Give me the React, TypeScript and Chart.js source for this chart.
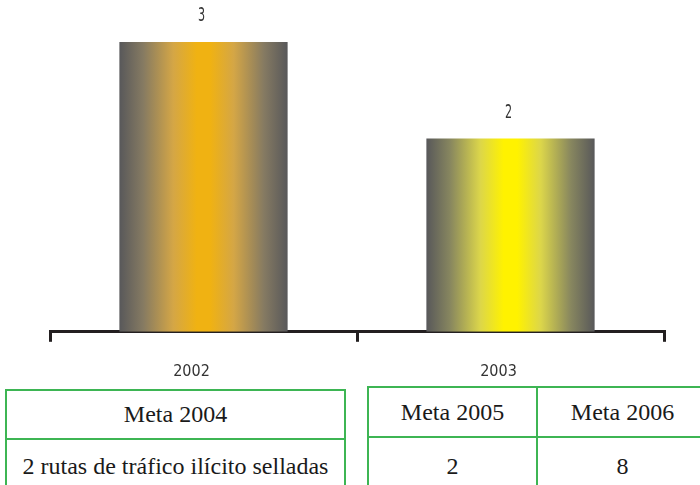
import React, { useEffect, useRef } from "react";
import { Chart, registerables } from "chart.js";

Chart.register(...registerables);

const categories = ["2002", "2003"];
const values = [3, 2];
const barCenterColors = ["#f0b212", "#fff200"];
const barMidColors = ["#d4a646", "#dcd64a"];
const barSideColors = ["#857a62", "#87865f"];

const goalHeaders = ["Meta 2004", "Meta 2005", "Meta 2006"];
const goalValues = ["2 rutas de tráfico ilícito selladas", "2", "8"];

const GREEN = "#3db553";
const LABEL_FONT = "'DejaVu Sans Condensed', 'DejaVu Sans', sans-serif";

const gradientPlugin = {
  id: "barGradient",
  beforeDatasetsDraw(chart: any) {
    const ctx = chart.ctx;
    const meta = chart.getDatasetMeta(0);
    meta.data.forEach((el: any, i: number) => {
      const x0 = el.x - el.width / 2;
      const x1 = el.x + el.width / 2;
      const g = ctx.createLinearGradient(x0, 0, x1, 0);
      g.addColorStop(0, "#58585a");
      g.addColorStop(0.14, barSideColors[i]);
      g.addColorStop(0.32, barMidColors[i]);
      g.addColorStop(0.46, barCenterColors[i]);
      g.addColorStop(0.54, barCenterColors[i]);
      g.addColorStop(0.68, barMidColors[i]);
      g.addColorStop(0.86, barSideColors[i]);
      g.addColorStop(1, "#58585a");
      el.options = Object.assign({}, el.options, { backgroundColor: g });
    });
  },
};

const valueLabelPlugin = {
  id: "valueLabels",
  afterDatasetsDraw(chart: any) {
    const ctx = chart.ctx;
    const meta = chart.getDatasetMeta(0);
    meta.data.forEach((el: any, i: number) => {
      ctx.save();
      ctx.translate(el.x - 2, el.y - 26);
      ctx.scale(0.62, 1);
      ctx.font = `20px ${LABEL_FONT}`;
      ctx.fillStyle = "#333333";
      ctx.textAlign = "center";
      ctx.textBaseline = "middle";
      ctx.fillText(String(values[i]), 0, 0);
      ctx.restore();
    });
  },
};

function BarChart() {
  const ref = useRef<HTMLCanvasElement | null>(null);
  useEffect(() => {
    if (!ref.current) return;
    const chart = new Chart(ref.current, {
      type: "bar",
      data: {
        labels: categories,
        datasets: [
          {
            data: values,
            backgroundColor: barCenterColors,
            borderWidth: 0,
            categoryPercentage: 1,
            barPercentage: 0.548,
          },
        ],
      },
      options: {
        animation: false,
        responsive: false,
        events: [],
        layout: { padding: { top: 42, left: 50, right: 36, bottom: 7 } },
        plugins: {
          legend: { display: false },
          tooltip: { enabled: false },
          title: { display: false },
        },
        scales: {
          x: {
            grid: {
              display: true,
              drawOnChartArea: false,
              drawTicks: true,
              tickLength: 10,
              lineWidth: 3,
              color: "#231f20",
              offset: true,
            },
            border: { display: true, width: 3, color: "#231f20" },
            ticks: {
              color: "#333333",
              font: { family: LABEL_FONT, size: 16 },
              padding: 20,
              labelOffset: -12,
            },
          },
          y: {
            display: false,
            min: 0,
            max: 3,
          },
        },
      },
      plugins: [gradientPlugin, valueLabelPlugin],
    });
    return () => chart.destroy();
  }, []);
  return <canvas ref={ref} width={700} height={408} style={{ display: "block" }} />;
}

const cellText: React.CSSProperties = {
  fontFamily: "'Liberation Serif', 'Times New Roman', 'DejaVu Serif', serif",
  fontSize: 24,
  color: "#1a1a1a",
  display: "flex",
  alignItems: "center",
  justifyContent: "center",
  boxSizing: "border-box",
  whiteSpace: "nowrap",
};

export default function App() {
  return (
    <div
      style={{
        position: "absolute",
        left: 0,
        top: 0,
        width: 700,
        height: 485,
        overflow: "hidden",
        background: "#ffffff",
      }}
    >
      <div style={{ position: "absolute", left: 0, top: 0, width: 700, height: 377, overflow: "hidden" }}>
        <BarChart />
      </div>

      <div
        style={{
          position: "absolute",
          left: 5,
          top: 389,
          width: 341,
          boxSizing: "border-box",
          border: `2px solid ${GREEN}`,
        }}
      >
        <div style={{ ...cellText, height: 49, borderBottom: `2px solid ${GREEN}` }}>{goalHeaders[0]}</div>
        <div style={{ ...cellText, height: 53 }}>{goalValues[0]}</div>
      </div>

      <div
        style={{
          position: "absolute",
          left: 367,
          top: 386,
          width: 342,
          boxSizing: "border-box",
          border: `2px solid ${GREEN}`,
          display: "grid",
          gridTemplateColumns: "169px 1fr",
        }}
      >
        <div style={{ ...cellText, height: 50, borderBottom: `2px solid ${GREEN}`, borderRight: `2px solid ${GREEN}` }}>
          {goalHeaders[1]}
        </div>
        <div style={{ ...cellText, height: 50, borderBottom: `2px solid ${GREEN}` }}>{goalHeaders[2]}</div>
        <div style={{ ...cellText, height: 56, borderRight: `2px solid ${GREEN}` }}>{goalValues[1]}</div>
        <div style={{ ...cellText, height: 56 }}>{goalValues[2]}</div>
      </div>
    </div>
  );
}
